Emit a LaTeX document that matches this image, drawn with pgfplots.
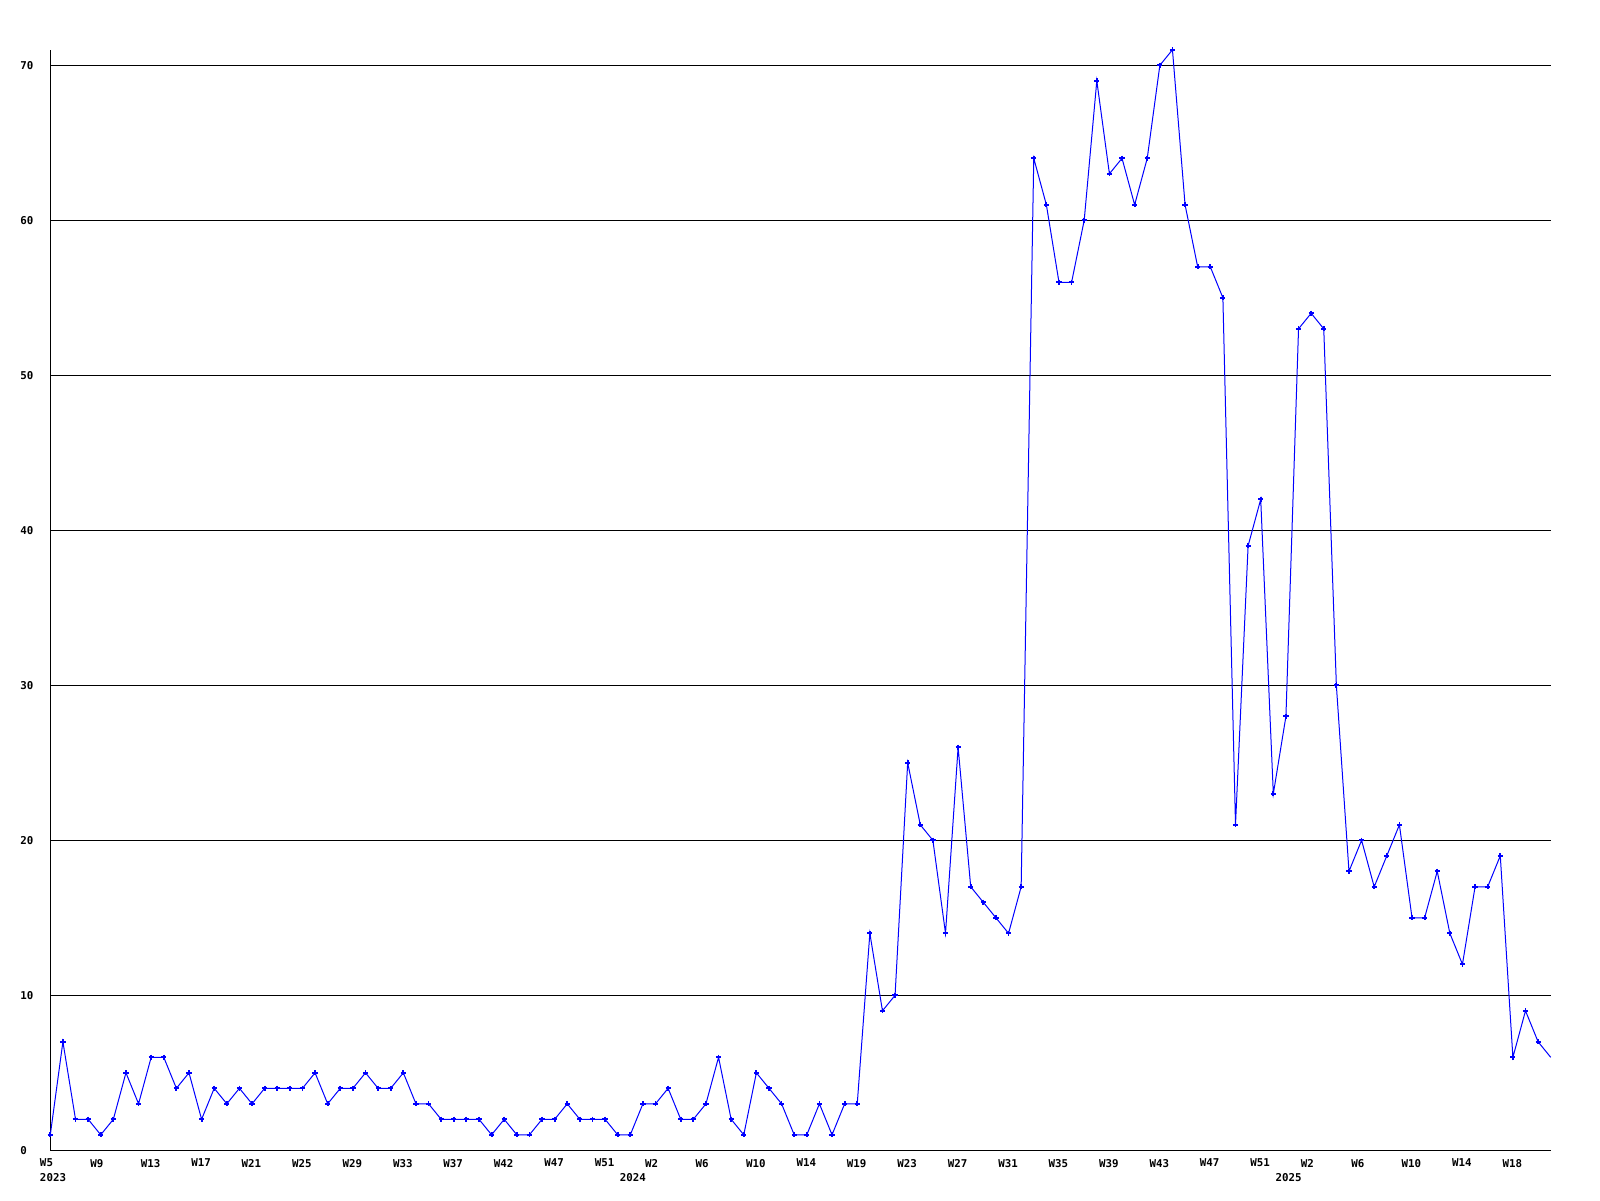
\documentclass[border=0pt]{standalone}
\usepackage{pgfplots}
\pgfplotsset{compat=1.18}
\usepackage{fontspec}
\setmonofont{DejaVu Sans Mono}
\newcommand{\lblfont}{\ttfamily\bfseries\fontsize{5.4pt}{6pt}\selectfont}
\pgfplotstableread{
x y
0 1
1 7
2 2
3 2
4 1
5 2
6 5
7 3
8 6
9 6
10 4
11 5
12 2
13 4
14 3
15 4
16 3
17 4
18 4
19 4
20 4
21 5
22 3
23 4
24 4
25 5
26 4
27 4
28 5
29 3
30 3
31 2
32 2
33 2
34 2
35 1
36 2
37 1
38 1
39 2
40 2
41 3
42 2
43 2
44 2
45 1
46 1
47 3
48 3
49 4
50 2
51 2
52 3
53 6
54 2
55 1
56 5
57 4
58 3
59 1
60 1
61 3
62 1
63 3
64 3
65 14
66 9
67 10
68 25
69 21
70 20
71 14
72 26
73 17
74 16
75 15
76 14
77 17
78 64
79 61
80 56
81 56
82 60
83 69
84 63
85 64
86 61
87 64
88 70
89 71
90 61
91 57
92 57
93 55
94 21
95 39
96 42
97 23
98 28
99 53
100 54
101 53
102 30
103 18
104 20
105 17
106 19
107 21
108 15
109 15
110 18
111 14
112 12
113 17
114 17
115 19
116 6
117 9
118 7
119 6
}\datatable
\begin{document}
\begin{tikzpicture}
\useasboundingbox (-25.15pt,-24.85pt) rectangle (774.85pt,575.15pt);
\begin{axis}[
  at={(0pt,0pt)}, anchor=south west,
  scale only axis, width=750.2pt, height=550.25pt,
  xmin=0, xmax=119, ymin=0, ymax=71,
  axis lines*=left,
  axis line style={black, line width=0.5pt},
  major tick length=0pt,
  ytick={0,10,...,70},
  ymajorgrids, grid style={black, line width=0.5pt},
  xtick={0,4,...,116},
  xticklabels={W5,W9,W13,W17,W21,W25,W29,W33,W37,W42,W47,W51,W2,W6,W10,W14,W19,W23,W27,W31,W35,W39,W43,W47,W51,W2,W6,W10,W14,W18},
  /pgf/number format/assume math mode=true,
  ticklabel style={font=\lblfont, inner sep=0pt},
  xticklabel style={anchor=north west, xshift=-5.35pt, yshift=-4.2pt},
  yticklabel style={anchor=west, xshift=-15.15pt},
  clip=false,
]
\addplot[color=blue, line width=0.5pt, mark=+, mark size=1.3pt,
  mark options={solid, line width=0.9pt, draw=blue}, mark indices={1,...,119}] table[x=x, y=y] {\datatable};
\node[anchor=north west, inner sep=0pt, font=\lblfont, xshift=-5.35pt, yshift=-11.2pt] at (axis cs:0,0) {2023};
\node[anchor=north west, inner sep=0pt, font=\lblfont, xshift=-5.35pt, yshift=-11.2pt] at (axis cs:46,0) {2024};
\node[anchor=north west, inner sep=0pt, font=\lblfont, xshift=-5.35pt, yshift=-11.2pt] at (axis cs:98,0) {2025};
\end{axis}
\end{tikzpicture}
\end{document}
